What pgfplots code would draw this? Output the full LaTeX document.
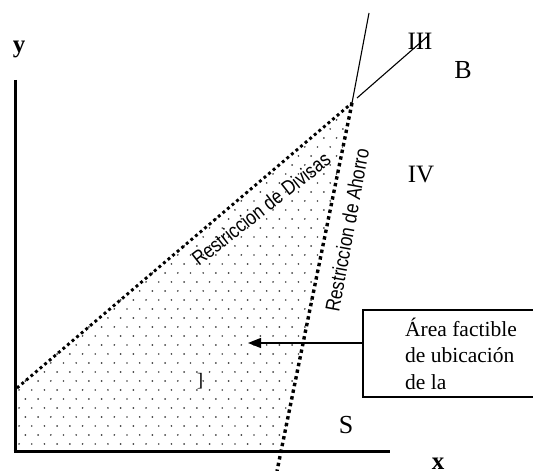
\documentclass[border=0pt]{standalone}
\usepackage{pgfplots}
\pgfplotsset{compat=1.18}
\usepackage{fontspec}
\setmainfont{Liberation Serif}
\newfontfamily\arialf{Liberation Sans}
\usetikzlibrary{patterns.meta, arrows.meta}

% staggered dot grid for the feasible area
\tikzdeclarepattern{
  name=fdots,
  type=uncolored,
  bottom left={(-1pt,-1pt)},
  top right={(11.7pt,17pt)},
  tile size={(12.7pt,18pt)},
  code={
    \fill (0pt,0pt) circle (0.95pt);
    \fill (6.35pt,9pt) circle (0.95pt);
  }
}

\begin{document}
\begin{tikzpicture}
\begin{axis}[
    name=ax,
    width=533pt, height=471pt,
    scale only axis,
    xmin=0, xmax=533, ymin=0, ymax=471,
    axis lines=none,
    clip=true,
  ]
  % feasible region
  \addplot[draw=none, pattern=fdots, pattern color=black!75]
    coordinates {(15,83) (352,368) (281,19) (15,19) (15,83)};

  % axes of the diagram
  \addplot[black, line width=3pt] coordinates {(15,391) (15,17.5)};
  \addplot[black, line width=3pt] coordinates {(13.5,19) (390,19)};

  % Restriccion de Divisas
  \addplot[black, line width=2.9pt, dash pattern=on 2.9pt off 3.1pt]
    coordinates {(17,83) (352,368)};
  % Restriccion de Ahorro
  \addplot[black, line width=3.4pt, dash pattern=on 3.4pt off 3.4pt]
    coordinates {(352,368) (277,0)};

  % solid lines from the vertex
  \addplot[black, line width=1.1pt] coordinates {(352,368) (369,458)};
  \addplot[black, line width=1.1pt] coordinates {(357,373) (428,435)};

  % annotation box and arrow
  \addplot[black, line width=1.8pt]
    coordinates {(545,161) (363,161) (363,74) (545,74)};
  \addplot[black, line width=1.4pt, -{Triangle[length=13pt, width=10pt]}]
    coordinates {(363,128) (248,128)};

  \node[font=\fontsize{21.5}{26}\selectfont, anchor=base west, inner sep=0pt]
    at (axis cs:405,134) {Área factible};
  \node[font=\fontsize{21.5}{26}\selectfont, anchor=base west, inner sep=0pt]
    at (axis cs:405,108) {de ubicación};
  \node[font=\fontsize{21.5}{26}\selectfont, anchor=base west, inner sep=0pt]
    at (axis cs:405,81) {de la};

  % rotated labels (narrow sans)
  \node[font=\arialf\fontsize{20.5}{24}\selectfont, rotate=38, inner sep=0pt]
    at (axis cs:261,262) {\scalebox{0.84}[1]{Restriccion de Divisas}};
  \node[font=\arialf\fontsize{20.5}{24}\selectfont, rotate=79.5, inner sep=0pt]
    at (axis cs:347,241) {\scalebox{0.84}[1]{Restriccion de Ahorro}};

  % region labels
  \node[font=\fontsize{25}{30}\selectfont, inner sep=0pt] at (axis cs:420,430) {III};
  \node[font=\fontsize{26}{30}\selectfont, inner sep=0pt] at (axis cs:463,401) {B};
  \node[font=\fontsize{25}{30}\selectfont, inner sep=0pt] at (axis cs:421,296) {IV};
  \node[font=\fontsize{26}{30}\selectfont, inner sep=0pt] at (axis cs:346,46) {S};
  \node[font=\fontsize{19}{22}\selectfont, inner sep=0pt] at (axis cs:200,90) {]};

  % axis letters
  \node[font=\bfseries\fontsize{25}{30}\selectfont, anchor=base, inner sep=0pt]
    at (axis cs:19,418) {y};
  \node[font=\bfseries\fontsize{25}{30}\selectfont, anchor=base, inner sep=0pt]
    at (axis cs:438,1) {x};
\end{axis}
\pgfresetboundingbox
\useasboundingbox (ax.south west) rectangle (ax.north east);
\end{tikzpicture}
\end{document}
